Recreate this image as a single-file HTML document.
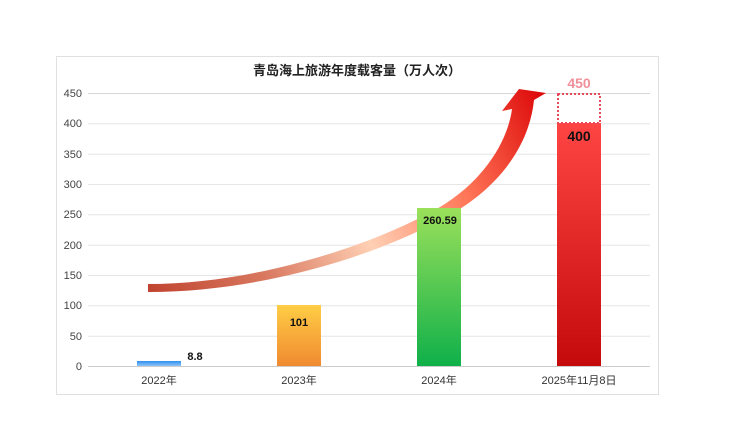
<!DOCTYPE html>
<html><head><meta charset="utf-8"><style>
body{margin:0;background:#fff;width:750px;height:422px;overflow:hidden}
text{font-family:"Liberation Sans","Noto Sans CJK SC",sans-serif}
</style></head><body>
<svg width="750" height="422" viewBox="0 0 750 422">
<defs>
<linearGradient id="gb" x1="0" y1="0" x2="0" y2="1"><stop offset="0" stop-color="#2f8ff0"/><stop offset="1" stop-color="#8ec4f5"/></linearGradient>
<linearGradient id="go" x1="0" y1="0" x2="0" y2="1"><stop offset="0" stop-color="#ffcd45"/><stop offset="1" stop-color="#f08a30"/></linearGradient>
<linearGradient id="gg" x1="0" y1="0" x2="0" y2="1"><stop offset="0" stop-color="#9be05a"/><stop offset="1" stop-color="#0fb04a"/></linearGradient>
<linearGradient id="gr" x1="0" y1="0" x2="0" y2="1"><stop offset="0" stop-color="#ff4444"/><stop offset="1" stop-color="#c40a0a"/></linearGradient>
<linearGradient id="ga" gradientUnits="userSpaceOnUse" x1="148" y1="288" x2="540" y2="93"><stop offset="0" stop-color="#c0442f"/><stop offset="0.25" stop-color="#d8785f"/><stop offset="0.5" stop-color="#ffd0b4"/><stop offset="0.75" stop-color="#ff7456"/><stop offset="1" stop-color="#dd0a0a"/></linearGradient>
</defs>
<rect x="56.5" y="56.5" width="602" height="338" fill="#fff" stroke="#e0e0e0"/>
<text x="357" y="75" font-size="13" font-weight="bold" text-anchor="middle" fill="#222">青岛海上旅游年度载客量（万人次）</text>
<g stroke="#e6e6e6" stroke-width="1">
<line x1="88" y1="93.5" x2="650" y2="93.5" stroke="#d8d8d8"/>
<line x1="88" y1="123.8" x2="650" y2="123.8"/>
<line x1="88" y1="154.2" x2="650" y2="154.2"/>
<line x1="88" y1="184.5" x2="650" y2="184.5"/>
<line x1="88" y1="214.8" x2="650" y2="214.8"/>
<line x1="88" y1="245.2" x2="650" y2="245.2"/>
<line x1="88" y1="275.5" x2="650" y2="275.5"/>
<line x1="88" y1="305.8" x2="650" y2="305.8"/>
<line x1="88" y1="336.2" x2="650" y2="336.2"/>
<line x1="88" y1="366.5" x2="650" y2="366.5" stroke="#ccc"/>
</g>
<g font-size="11" fill="#444" text-anchor="end">
<text x="82" y="97">450</text><text x="82" y="127">400</text><text x="82" y="158">350</text><text x="82" y="188">300</text><text x="82" y="218">250</text><text x="82" y="249">200</text><text x="82" y="279">150</text><text x="82" y="309">100</text><text x="82" y="340">50</text><text x="82" y="370">0</text>
</g>
<path d="M148,284 C260,284 380,242 440,207 C485,180 508,140 512,109 L502,111 L519,89 L546,93 L534,100 C530,140 505,182 455,212 C380,256 260,292 148,292 Z" fill="url(#ga)"/>
<rect x="137" y="361" width="44" height="5" fill="url(#gb)"/>
<rect x="277" y="305" width="44" height="61" fill="url(#go)"/>
<rect x="417" y="208" width="44" height="158" fill="url(#gg)"/>
<rect x="557" y="123" width="44" height="243" fill="url(#gr)"/>
<rect x="558" y="94" width="42" height="29" fill="none" stroke="#e8485a" stroke-width="2" stroke-dasharray="2,2"/>
<g font-size="11" font-weight="bold" fill="#111" text-anchor="middle">
<text x="195" y="360">8.8</text><text x="299" y="326">101</text><text x="440" y="224">260.59</text>
<text x="579" y="141" font-size="14">400</text>
</g>
<text x="579" y="88" font-size="14" font-weight="bold" fill="#f0909a" text-anchor="middle">450</text>
<g font-size="11" fill="#333" text-anchor="middle">
<text x="159" y="384">2022年</text><text x="299" y="384">2023年</text><text x="439" y="384">2024年</text><text x="579" y="384">2025年11月8日</text>
</g>
</svg>
</body></html>
